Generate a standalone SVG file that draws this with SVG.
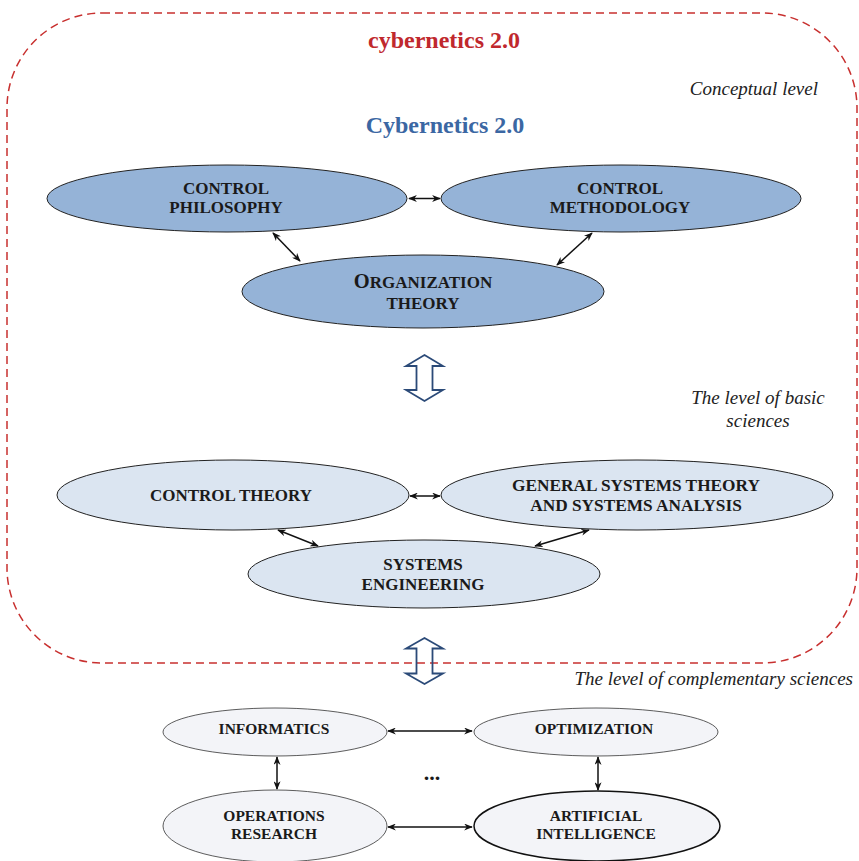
<svg xmlns="http://www.w3.org/2000/svg" width="859" height="861" viewBox="0 0 859 861">
<defs>
<style>
.lbl{font-family:"Liberation Serif","Times New Roman",serif;font-weight:bold;fill:#1a1a1a;text-anchor:middle}
.l1{font-size:17px}
.l3{font-size:15.5px}
.it{font-family:"Liberation Serif","Times New Roman",serif;font-style:italic;font-size:19px;fill:#222}
.e1{fill:#95b3d7;stroke:#222;stroke-width:1}
.e2{fill:#dbe5f1;stroke:#222;stroke-width:1}
.e3{fill:#f3f4f8;stroke:#333;stroke-width:0.8}
.e3b{fill:#f3f4f8;stroke:#111;stroke-width:1.5}
.conn{stroke:#111;stroke-width:1.5;fill:none;marker-start:url(#ah);marker-end:url(#ah)}
.big{fill:none;stroke:#2b4a78;stroke-width:1.8;stroke-linejoin:miter}
</style>
<marker id="ah" viewBox="0 0 10 8" refX="9" refY="4" markerWidth="9" markerHeight="7" markerUnits="userSpaceOnUse" orient="auto-start-reverse">
<path d="M0,0 L10,4 L0,8 L3,4 z" fill="#111"/>
</marker>
</defs>
<rect width="859" height="861" fill="#fff"/>

<g id="boundary">
<rect x="7" y="13" width="850" height="650" rx="95" ry="95" fill="none" stroke="#c8302f" stroke-width="1.5" stroke-dasharray="8 5"/>
</g>

<g id="titles">
<text x="444" y="48" font-family="Liberation Serif, Times New Roman, serif" font-weight="bold" font-size="24" fill="#c0282d" text-anchor="middle">cybernetics 2.0</text>
<text x="445" y="133" font-family="Liberation Serif, Times New Roman, serif" font-weight="bold" font-size="24" fill="#3b67a3" text-anchor="middle">Cybernetics 2.0</text>
<text class="it" x="818" y="95" text-anchor="end">Conceptual level</text>
<text class="it" x="758" y="404" text-anchor="middle">The level of basic</text>
<text class="it" x="758" y="427" text-anchor="middle">sciences</text>
<text class="it" x="853" y="685" text-anchor="end">The level of complementary sciences</text>
</g>

<g id="connectors">
<line class="conn" x1="409" y1="198.5" x2="440" y2="198.5"/>
<line class="conn" x1="273" y1="233" x2="300" y2="261"/>
<line class="conn" x1="592" y1="233" x2="557" y2="265"/>
<line class="conn" x1="410" y1="496" x2="440" y2="496"/>
<line class="conn" x1="278" y1="530" x2="318" y2="546"/>
<line class="conn" x1="589" y1="530" x2="535" y2="546"/>
<line class="conn" x1="388" y1="731" x2="472" y2="731"/>
<line class="conn" x1="388" y1="827" x2="472" y2="827"/>
<line class="conn" x1="277" y1="757" x2="277" y2="789"/>
<line class="conn" x1="598" y1="757" x2="598" y2="790"/>
<path class="big" d="M424.5,355 L443,366 L432.5,366 L432.5,390 L443,390 L424.5,401 L406,390 L416.5,390 L416.5,366 L406,366 Z"/>
<path class="big" d="M424.5,638 L443,648.5 L432.5,648.5 L432.5,673.5 L443,673.5 L424.5,684 L406,673.5 L416.5,673.5 L416.5,648.5 L406,648.5 Z"/>
</g>

<g id="control-philosophy">
<ellipse class="e1" cx="227" cy="198.5" rx="180" ry="33.5"/>
<text class="lbl l1" x="226" y="194">CONTROL</text>
<text class="lbl l1" x="226" y="213">PHILOSOPHY</text>
</g>
<g id="control-methodology">
<ellipse class="e1" cx="621" cy="198.5" rx="180" ry="33.5"/>
<text class="lbl l1" x="620" y="194">CONTROL</text>
<text class="lbl l1" x="620" y="213">METHODOLOGY</text>
</g>
<g id="organization-theory">
<ellipse class="e1" cx="423" cy="291.5" rx="181" ry="36.5"/>
<text class="lbl" font-size="20.5" x="423" y="288">O<tspan font-size="17">RGANIZATION</tspan></text>
<text class="lbl l1" x="423" y="309">THEORY</text>
</g>

<g id="control-theory">
<ellipse class="e2" cx="233" cy="495" rx="176" ry="35"/>
<text class="lbl l1" x="231" y="501">CONTROL THEORY</text>
</g>
<g id="general-systems-theory">
<ellipse class="e2" cx="637" cy="495" rx="196" ry="35"/>
<text class="lbl" font-size="17.3" x="636" y="491">GENERAL SYSTEMS THEORY</text>
<text class="lbl" font-size="17.3" x="636" y="511">AND SYSTEMS ANALYSIS</text>
</g>
<g id="systems-engineering">
<ellipse class="e2" cx="424" cy="574" rx="176" ry="34"/>
<text class="lbl l1" x="423" y="570">SYSTEMS</text>
<text class="lbl l1" x="423" y="590">ENGINEERING</text>
</g>

<g id="informatics">
<ellipse class="e3" cx="275" cy="732" rx="112" ry="24"/>
<text class="lbl l3" x="274" y="734">INFORMATICS</text>
</g>
<g id="optimization">
<ellipse class="e3" cx="596" cy="732" rx="122" ry="24"/>
<text class="lbl l3" x="594" y="734">OPTIMIZATION</text>
</g>
<g id="operations-research">
<ellipse class="e3" cx="275" cy="826" rx="112" ry="36"/>
<text class="lbl l3" x="274" y="821">OPERATIONS</text>
<text class="lbl l3" x="274" y="839">RESEARCH</text>
</g>
<g id="artificial-intelligence">
<ellipse class="e3b" cx="597" cy="826" rx="123" ry="35"/>
<text class="lbl l3" x="596" y="821">ARTIFICIAL</text>
<text class="lbl l3" x="596" y="839">INTELLIGENCE</text>
</g>
<g id="ellipsis">
<text class="lbl" font-size="22" x="432" y="780">...</text>
</g>
</svg>
